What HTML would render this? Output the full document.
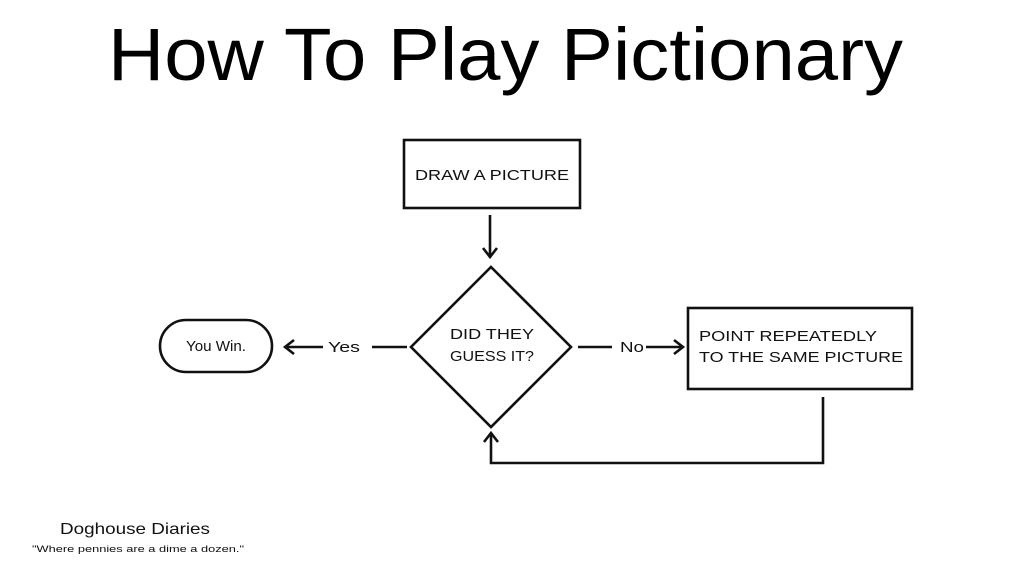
<!DOCTYPE html>
<html><head><meta charset="utf-8"><style>html,body{margin:0;padding:0;background:#fff}svg{display:block}</style></head>
<body>
<svg width="1031" height="583" viewBox="0 0 1031 583" xmlns="http://www.w3.org/2000/svg" font-family="'Liberation Sans', sans-serif">
<rect width="1031" height="583" fill="#fff"/>
<text x="108" y="80" font-size="74" textLength="795" lengthAdjust="spacingAndGlyphs" fill="#000">How To Play Pictionary</text>
<g stroke="#111" stroke-width="2.6" fill="none">
<rect x="404" y="140" width="176" height="68"/>
<line x1="490" y1="215" x2="490" y2="256"/>
<polyline points="483,248 490,257 497,248"/>
<polygon points="491,267 571,347 491,427 411,347"/>
<line x1="372" y1="347" x2="407" y2="347"/>
<line x1="286" y1="347" x2="323" y2="347"/>
<polyline points="294,340 285,347 294,354"/>
<rect x="160" y="320" width="112" height="52" rx="26"/>
<line x1="578" y1="347" x2="612" y2="347"/>
<line x1="646" y1="347" x2="682" y2="347"/>
<polyline points="674,340 683,347 674,354"/>
<rect x="688" y="308" width="224" height="81"/>
<polyline points="823,397 823,463 491,463 491,434"/>
<polyline points="484,442 491,433 498,442"/>
</g>
<g fill="#111" font-size="15">
<text x="492" y="180" text-anchor="middle" textLength="154" lengthAdjust="spacingAndGlyphs">DRAW A PICTURE</text>
<text x="492" y="339" text-anchor="middle" textLength="84" lengthAdjust="spacingAndGlyphs">DID THEY</text>
<text x="492" y="361" text-anchor="middle" textLength="84" lengthAdjust="spacingAndGlyphs">GUESS IT?</text>
<text x="216" y="351" text-anchor="middle" textLength="60" lengthAdjust="spacingAndGlyphs">You Win.</text>
<text x="328" y="352" textLength="32" lengthAdjust="spacingAndGlyphs">Yes</text>
<text x="620" y="352" textLength="24" lengthAdjust="spacingAndGlyphs">No</text>
<text x="699" y="341" textLength="178" lengthAdjust="spacingAndGlyphs">POINT REPEATEDLY</text>
<text x="699" y="362" textLength="204" lengthAdjust="spacingAndGlyphs">TO THE SAME PICTURE</text>
<text x="60" y="534" font-size="16" textLength="150" lengthAdjust="spacingAndGlyphs">Doghouse Diaries</text>
<text x="32" y="552" font-size="9" textLength="212" lengthAdjust="spacingAndGlyphs">"Where pennies are a dime a dozen."</text>
</g>
</svg>
</body></html>
